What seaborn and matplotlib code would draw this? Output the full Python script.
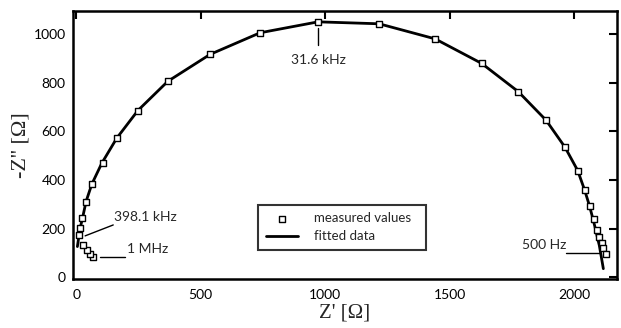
import matplotlib
import matplotlib.pyplot as plt
import seaborn as sns

matplotlib.use('Agg')

# measured impedance points (Z', -Z'') in Ohm
meas_x = [67, 56, 43, 29, 13, 16, 25, 39, 65, 106, 163, 248, 368, 538, 739, 972,
          1217, 1442, 1629, 1776, 1888, 1964, 2017, 2043, 2064, 2080, 2091, 2102,
          2111, 2118, 2127]
meas_y = [85, 96, 112, 133, 173, 203, 245, 311, 385, 472, 572, 686, 806, 917, 1006, 1051,
          1043, 981, 880, 764, 646, 535, 439, 358, 295, 241, 196, 166,
          139, 119, 96]

# fitted curve
fit_x = [5, 12, 18, 27, 40, 63, 103, 163, 248, 368, 538, 739, 972, 1217, 1442, 1629,
         1776, 1888, 1964, 2015, 2043, 2062, 2076, 2087, 2095, 2102, 2107, 2113, 2118]
fit_y = [126, 175, 210, 250, 312, 383, 469, 572, 686, 806, 917, 1006, 1051, 1043, 981, 880,
         764, 646, 535, 439, 358, 295, 241, 196, 160, 130, 100, 65, 35]

x_ticks = [0, 500, 1000, 1500, 2000]
y_ticks = [0, 200, 400, 600, 800, 1000]

sns.set_theme(style="white")
plt.rcParams['font.family'] = ['Lato', 'DejaVu Sans']

fig = plt.figure(figsize=(6.21, 3.28), dpi=100)
ax = fig.add_axes([0.117, 0.149, 0.8766, 0.817])

sns.lineplot(x=fit_x, y=fit_y, sort=False, color='black', linewidth=2.0,
             label='fitted data', ax=ax, zorder=2)
sns.scatterplot(x=meas_x, y=meas_y, marker='s', s=20, facecolor='white',
                edgecolor='black', linewidth=1.0, label='measured values',
                ax=ax, zorder=3)

ax.set_xlim(-14, 2173)
ax.set_ylim(-8, 1095)
ax.set_xticks(x_ticks)
ax.set_yticks(y_ticks)
ax.tick_params(direction='in', length=6, width=1.5, top=True, right=True,
               labelsize=10, colors='black')
ax.tick_params(axis='x', pad=7)
ax.tick_params(axis='y', pad=5)
for s in ax.spines.values():
    s.set_linewidth(1.8)
    s.set_color('black')

serif = ['Liberation Serif', 'DejaVu Serif']
ax.set_xlabel("Z' [Ω]", family=serif, fontsize=15, labelpad=2)
ax.set_ylabel("-Z'' [Ω]", family=serif, fontsize=16, labelpad=2)

# frequency annotations
ax.plot([972, 972], [1026, 957], color='black', lw=1)
ax.text(972, 893, '31.6 kHz', ha='center', va='center', fontsize=10)
ax.plot([36, 149], [170, 215], color='black', lw=1)
ax.text(152, 247, '398.1 kHz', ha='left', va='center', fontsize=10)
ax.plot([94, 197], [85, 85], color='black', lw=1)
ax.text(205, 118, '1 MHz', ha='left', va='center', fontsize=10)
ax.plot([1970, 2104], [99, 99], color='black', lw=1)
ax.text(1968, 134, '500 Hz', ha='right', va='center', fontsize=10)

h, l = ax.get_legend_handles_labels()
leg = ax.legend(h[::-1], l[::-1], loc='lower left', bbox_to_anchor=(0.329, 0.083, 0.332, 0.177),
                mode='expand', fontsize=9.5, frameon=True, fancybox=False,
                edgecolor='black', handlelength=2.4, borderpad=0.6, labelspacing=0.45,
                handletextpad=1.2)
leg.get_frame().set_linewidth(1.5)

fig.savefig('out.png', dpi=100)
